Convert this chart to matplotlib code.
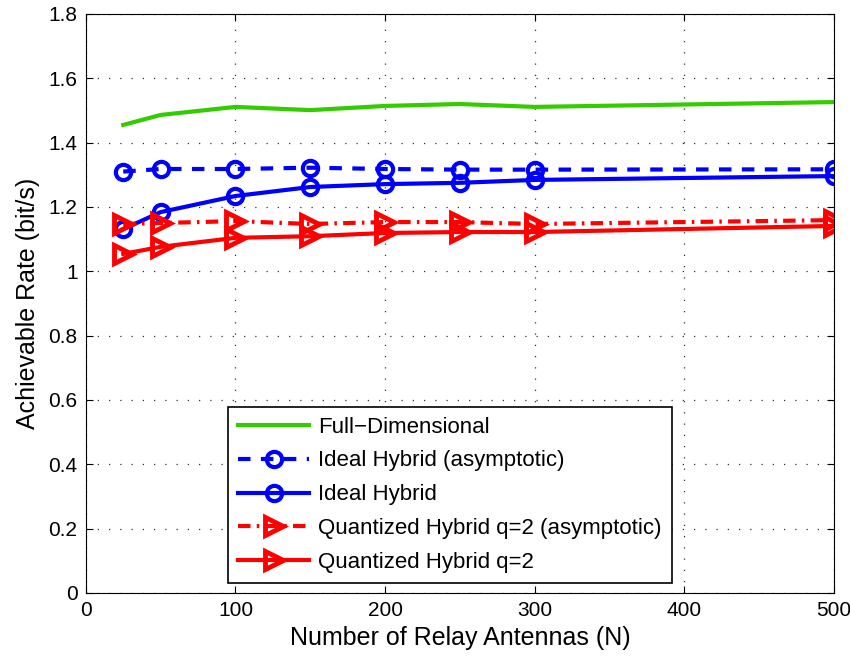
import numpy as np
import matplotlib
matplotlib.use("Agg")
import matplotlib.pyplot as plt

plt.rcParams['font.family'] = ['Liberation Sans', 'DejaVu Sans']

N = [25, 50, 100, 150, 200, 250, 300, 500]
full_dim = [1.455, 1.486, 1.511, 1.501, 1.514, 1.520, 1.511, 1.526]
ideal_asym = [1.310, 1.318, 1.318, 1.322, 1.318, 1.316, 1.316, 1.317]
ideal = [1.131, 1.184, 1.234, 1.262, 1.271, 1.275, 1.284, 1.296]
quant_asym = [1.147, 1.150, 1.156, 1.147, 1.153, 1.153, 1.147, 1.159]
quant = [1.054, 1.076, 1.104, 1.109, 1.119, 1.122, 1.122, 1.141]

fig = plt.figure(figsize=(8.5, 6.64), dpi=100)
ax = fig.add_axes([0.101, 0.107, 0.880, 0.872])

lw = 3
ax.plot(N, full_dim, color='#33cc00', lw=lw, label='Full\u2212Dimensional')
ax.plot(N, ideal_asym, color='blue', lw=lw, ls=(0, (3, 2.5)), marker='o', ms=11,
        mfc='none', mew=3, label='Ideal Hybrid (asymptotic)')
ax.plot(N, ideal, color='blue', lw=lw, marker='o', ms=11, mfc='none', mew=3,
        label='Ideal Hybrid')
ax.plot(N, quant_asym, color='red', lw=lw, ls=(0, (3, 1.5, 0.6, 1.5)), marker='>', ms=13,
        mfc='none', mew=3.5, label='Quantized Hybrid q=2 (asymptotic)')
ax.plot(N, quant, color='red', lw=lw, marker='>', ms=13, mfc='none', mew=3.5,
        label='Quantized Hybrid q=2')

ax.set_xlim(0, 500)
ax.set_ylim(0, 1.8)
ax.set_xticks(np.arange(0, 501, 100))
ax.set_yticks(np.arange(0, 1.81, 0.2))
ax.set_yticklabels(['0', '0.2', '0.4', '0.6', '0.8', '1', '1.2', '1.4', '1.6', '1.8'])
ax.tick_params(direction='in', labelsize=15, top=True, right=True, length=5, pad=6)
ax.grid(True, ls=(0, (1, 8)), color='#333333', lw=0.9)
ax.set_xlabel('Number of Relay Antennas (N)', fontsize=18, labelpad=4)
ax.set_ylabel('Achievable Rate (bit/s)', fontsize=18, labelpad=6)

leg = ax.legend(loc='lower center', bbox_to_anchor=(0.487, 0.017), borderaxespad=0,
                fontsize=16, fancybox=False, edgecolor='black', framealpha=1,
                handlelength=3.2, handletextpad=0.4, labelspacing=0.58,
                borderpad=0.45)
leg.get_frame().set_linewidth(1.2)

fig.savefig('out.png', dpi=100)
